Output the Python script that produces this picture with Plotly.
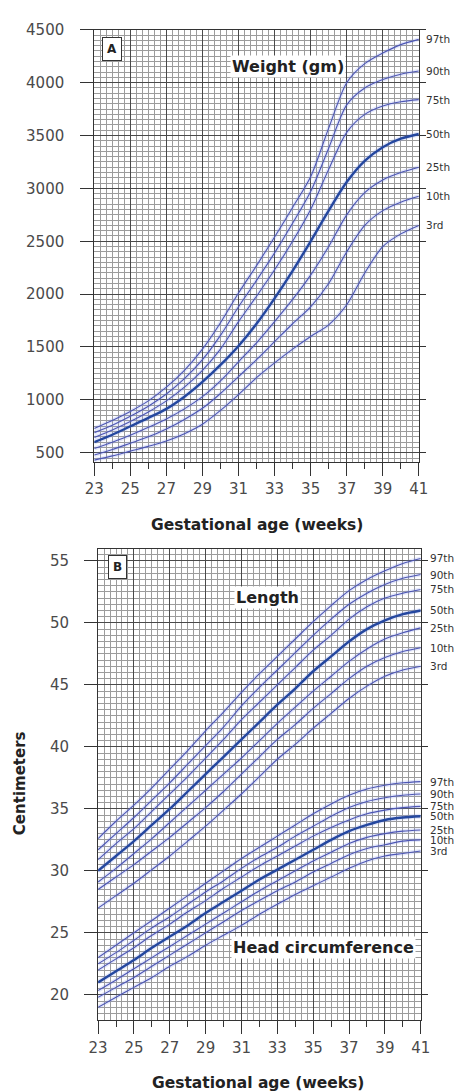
import plotly.graph_objects as go

# ---------------- data ----------------
weeks = list(range(23, 42))
percentiles = ["97th", "90th", "75th", "50th", "25th", "10th", "3rd"]

# Weight (gm) by gestational age
weight_97 = [730, 805, 890, 990, 1120, 1280, 1480, 1730, 2010, 2270, 2540, 2820, 3110, 3570, 4000, 4180, 4280, 4360, 4410]
weight_90 = [690, 760, 845, 940, 1055, 1200, 1380, 1610, 1880, 2130, 2390, 2670, 2970, 3380, 3790, 3950, 4030, 4080, 4110]
weight_75 = [645, 715, 795, 885, 990, 1120, 1280, 1480, 1740, 1980, 2230, 2500, 2800, 3180, 3530, 3700, 3780, 3820, 3840]
weight_50 = [600, 670, 750, 830, 915, 1030, 1170, 1330, 1510, 1720, 1960, 2220, 2500, 2790, 3060, 3260, 3390, 3470, 3515]
weight_25 = [540, 600, 665, 740, 820, 915, 1030, 1180, 1360, 1540, 1740, 1950, 2180, 2450, 2750, 2960, 3080, 3150, 3200]
weight_10 = [478, 530, 590, 650, 725, 815, 920, 1060, 1220, 1380, 1550, 1720, 1880, 2100, 2400, 2650, 2790, 2870, 2925]
weight_3 = [430, 470, 515, 560, 610, 680, 770, 900, 1050, 1210, 1350, 1480, 1600, 1710, 1900, 2200, 2450, 2570, 2650]

# Length (cm)
length_97 = [32.6, 34.0, 35.3, 36.7, 38.2, 39.7, 41.3, 42.8, 44.4, 45.9, 47.3, 48.7, 50.1, 51.4, 52.6, 53.5, 54.2, 54.8, 55.2]
length_90 = [31.7, 33.0, 34.3, 35.7, 37.1, 38.6, 40.1, 41.6, 43.3, 44.8, 46.2, 47.6, 49.0, 50.3, 51.5, 52.4, 53.1, 53.6, 53.9]
length_75 = [30.9, 32.2, 33.4, 34.8, 36.2, 37.6, 39.1, 40.6, 42.2, 43.6, 45.0, 46.4, 47.8, 49.0, 50.3, 51.3, 52.0, 52.4, 52.7]
length_50 = [30.0, 31.2, 32.4, 33.7, 35.0, 36.4, 37.8, 39.2, 40.6, 42.0, 43.4, 44.7, 46.1, 47.3, 48.5, 49.5, 50.2, 50.7, 51.0]
length_25 = [29.1, 30.2, 31.4, 32.6, 33.9, 35.2, 36.5, 37.8, 39.1, 40.5, 41.9, 43.2, 44.5, 45.7, 46.9, 47.9, 48.7, 49.2, 49.6]
length_10 = [28.5, 29.5, 30.5, 31.6, 32.7, 33.9, 35.1, 36.4, 37.8, 39.2, 40.6, 41.8, 43.1, 44.3, 45.5, 46.5, 47.2, 47.7, 48.0]
length_3 = [27.0, 28.0, 29.0, 30.1, 31.2, 32.4, 33.6, 34.9, 36.2, 37.6, 39.0, 40.2, 41.5, 42.7, 43.9, 44.9, 45.7, 46.2, 46.5]

# Head circumference (cm)
head_97 = [23.0, 24.0, 25.0, 26.0, 27.0, 28.0, 29.0, 30.0, 31.0, 31.9, 32.8, 33.7, 34.6, 35.4, 36.1, 36.6, 36.9, 37.1, 37.2]
head_90 = [22.5, 23.4, 24.4, 25.4, 26.3, 27.3, 28.3, 29.2, 30.2, 31.1, 31.9, 32.8, 33.6, 34.4, 35.1, 35.6, 35.9, 36.1, 36.2]
head_75 = [22.0, 22.9, 23.8, 24.8, 25.7, 26.7, 27.6, 28.6, 29.5, 30.4, 31.2, 32.0, 32.8, 33.5, 34.1, 34.6, 34.9, 35.1, 35.2]
head_50 = [21.0, 21.9, 22.8, 23.8, 24.7, 25.6, 26.6, 27.5, 28.4, 29.3, 30.1, 30.9, 31.7, 32.5, 33.2, 33.7, 34.1, 34.3, 34.4]
head_25 = [20.35, 21.2, 22.1, 23.0, 23.9, 24.8, 25.7, 26.6, 27.5, 28.4, 29.2, 30.0, 30.8, 31.5, 32.2, 32.7, 33.0, 33.2, 33.3]
head_10 = [19.8, 20.6, 21.4, 22.3, 23.2, 24.1, 25.0, 25.9, 26.8, 27.6, 28.4, 29.1, 29.9, 30.6, 31.3, 31.8, 32.1, 32.4, 32.5]
head_3 = [19.0, 19.8, 20.6, 21.4, 22.3, 23.1, 24.0, 24.8, 25.6, 26.5, 27.3, 28.1, 28.8, 29.5, 30.2, 30.8, 31.2, 31.4, 31.6]

weight_ticks = [500, 1000, 1500, 2000, 2500, 3000, 3500, 4000, 4500]
cm_ticks = [20, 25, 30, 35, 40, 45, 50, 55]
odd_weeks = [w for w in weeks if w % 2 == 1]
even_weeks = [w for w in weeks if w % 2 == 0]

weight_sets = [weight_97, weight_90, weight_75, weight_50, weight_25, weight_10, weight_3]
length_sets = [length_97, length_90, length_75, length_50, length_25, length_10, length_3]
head_sets = [head_97, head_90, head_75, head_50, head_25, head_10, head_3]

# ---------------- layout helpers ----------------
W, H = 470, 1092


def fx(p):
    return p / W


def fy(p):
    return 1 - p / H


FONT = "DejaVu Sans"
THIN = "#4d56b4"
THICK = "#24479f"
HALO = "rgba(130,150,230,0.22)"
GRID_MAJOR = "#4a4a4a"
GRID_MINOR = "#9c9c9c"
AXIS = "#333333"

fig = go.Figure()


def add_curves(sets, xa, ya):
    for name, vals in zip(percentiles, sets):
        main = name == "50th"
        fig.add_trace(go.Scatter(
            x=weeks, y=vals, mode="lines", xaxis=xa, yaxis=ya,
            line=dict(color=HALO, width=5 if main else 4, shape="spline", smoothing=0.8),
            hoverinfo="skip", showlegend=False))
        fig.add_trace(go.Scatter(
            x=weeks, y=vals, mode="lines", xaxis=xa, yaxis=ya, name=name,
            line=dict(color=THICK if main else THIN, width=2.4 if main else 1.1,
                      shape="spline", smoothing=0.8),
            showlegend=False))


add_curves(weight_sets, "x", "y")
add_curves(length_sets, "x2", "y2")
add_curves(head_sets, "x2", "y2")

# empty traces so the overlay tick axes are drawn
for xa, ya in [("x3", "y"), ("x4", "y2"), ("x", "y3"), ("x2", "y4")]:
    fig.add_trace(go.Scatter(x=[], y=[], xaxis=xa, yaxis=ya, showlegend=False))

tickfont = dict(family=FONT, size=15, color="#4a4a4a")


def x_axis(domain, anchor, standoff):
    return dict(
        domain=domain, anchor=anchor, range=[23, 41], tickvals=odd_weeks,
        ticks="outside", ticklen=13, tickwidth=1, tickcolor=AXIS,
        tickfont=tickfont, ticklabelstandoff=standoff,
        showline=True, linecolor=AXIS, linewidth=1, mirror=True,
        showgrid=True, gridcolor=GRID_MAJOR, gridwidth=1, zeroline=False,
        minor=dict(tick0=23, dtick=1 / 3, showgrid=True, gridcolor=GRID_MINOR,
                   gridwidth=1, ticks=""),
    )


def x_even(base, anchor):
    return dict(overlaying=base, anchor=anchor, range=[23, 41], tickvals=even_weeks,
                ticks="outside", ticklen=6, tickcolor=AXIS, showticklabels=False,
                showgrid=False, showline=False, zeroline=False)


def y_axis(domain, anchor, rng, ticks, minor_step, standoff):
    return dict(
        domain=domain, anchor=anchor, range=rng, tickvals=ticks,
        ticks="outside", ticklen=13, tickwidth=1, tickcolor=AXIS,
        tickfont=tickfont, ticklabelstandoff=standoff,
        showline=True, linecolor=AXIS, linewidth=1, mirror=True,
        showgrid=True, gridcolor=GRID_MAJOR, gridwidth=1, zeroline=False,
        minor=dict(dtick=minor_step, showgrid=True, gridcolor=GRID_MINOR,
                   gridwidth=1, ticks=""),
    )


def y_right(base, anchor, rng, ticks):
    return dict(overlaying=base, anchor=anchor, side="right", range=rng, tickvals=ticks,
                ticks="outside", ticklen=6, tickcolor=AXIS, showticklabels=False,
                showgrid=False, showline=False, zeroline=False)


top_x = [fx(88), fx(427)]
top_y = [fy(457), fy(21)]
bot_x = [fx(92), fx(429)]
bot_y = [fy(1019), fy(544)]
w_range = [410, 4500]
c_range = [18, 56]

fig.update_layout(
    width=W, height=H, margin=dict(l=0, r=0, t=0, b=0),
    paper_bgcolor="white", plot_bgcolor="white", showlegend=False,
    xaxis=x_axis(top_x, "y", 0),
    yaxis=y_axis(top_y, "x", w_range, weight_ticks, 50, 13),
    xaxis2=x_axis(bot_x, "y2", 1),
    yaxis2=y_axis(bot_y, "x2", c_range, cm_ticks, 0.5, 12),
    xaxis3=x_even("x", "y"),
    xaxis4=x_even("x2", "y2"),
    yaxis3=y_right("y", "x", w_range, weight_ticks),
    yaxis4=y_right("y2", "x2", c_range, cm_ticks),
)

ann = []
bold = dict(family=FONT, size=16, color="#222222")


def paper_note(text, cx, cy, **kw):
    d = dict(text=text, x=fx(cx), y=fy(cy), xref="paper", yref="paper",
             xanchor="center", yanchor="middle", showarrow=False)
    d.update(kw)
    ann.append(d)


# panel letters
for letter, cx, cy in [("A", 106.5, 40), ("B", 112, 563)]:
    paper_note(f"<b>{letter}</b>", cx, cy, font=dict(family=FONT, size=12, color="#222222"),
               bgcolor="white", bordercolor="#333333", borderwidth=1, borderpad=4)

# chart titles inside the grids
for txt, cx, cy in [("Weight (gm)", 290, 58), ("Length", 269, 593), ("Head circumference", 327, 946)]:
    paper_note(f"<b>{txt}</b>", cx, cy, font=bold, bgcolor="white", borderpad=1)

# axis titles
for cx, cy in [(258, 520), (259, 1083)]:
    paper_note("<b>Gestational age (weeks)</b>", cx, cy, font=dict(family=FONT, size=15.5, color="#222222"))
paper_note("<b>Centimeters</b>", 10, 781, font=dict(family=FONT, size=15, color="#222222"), textangle=-90)

# percentile labels at the right end of each curve
pfont = dict(family=FONT, size=10.5, color="#333333")
for sets, xr, yr, shift in [(weight_sets, "x", "y", 5), (length_sets, "x2", "y2", 7), (head_sets, "x2", "y2", 7)]:
    for name, vals in zip(percentiles, sets):
        ann.append(dict(text=name, x=41, y=vals[-1], xref=xr, yref=yr, xanchor="left",
                        yanchor="middle", xshift=shift, showarrow=False, font=pfont))

fig.update_layout(annotations=ann)
fig.write_html("out.html")
